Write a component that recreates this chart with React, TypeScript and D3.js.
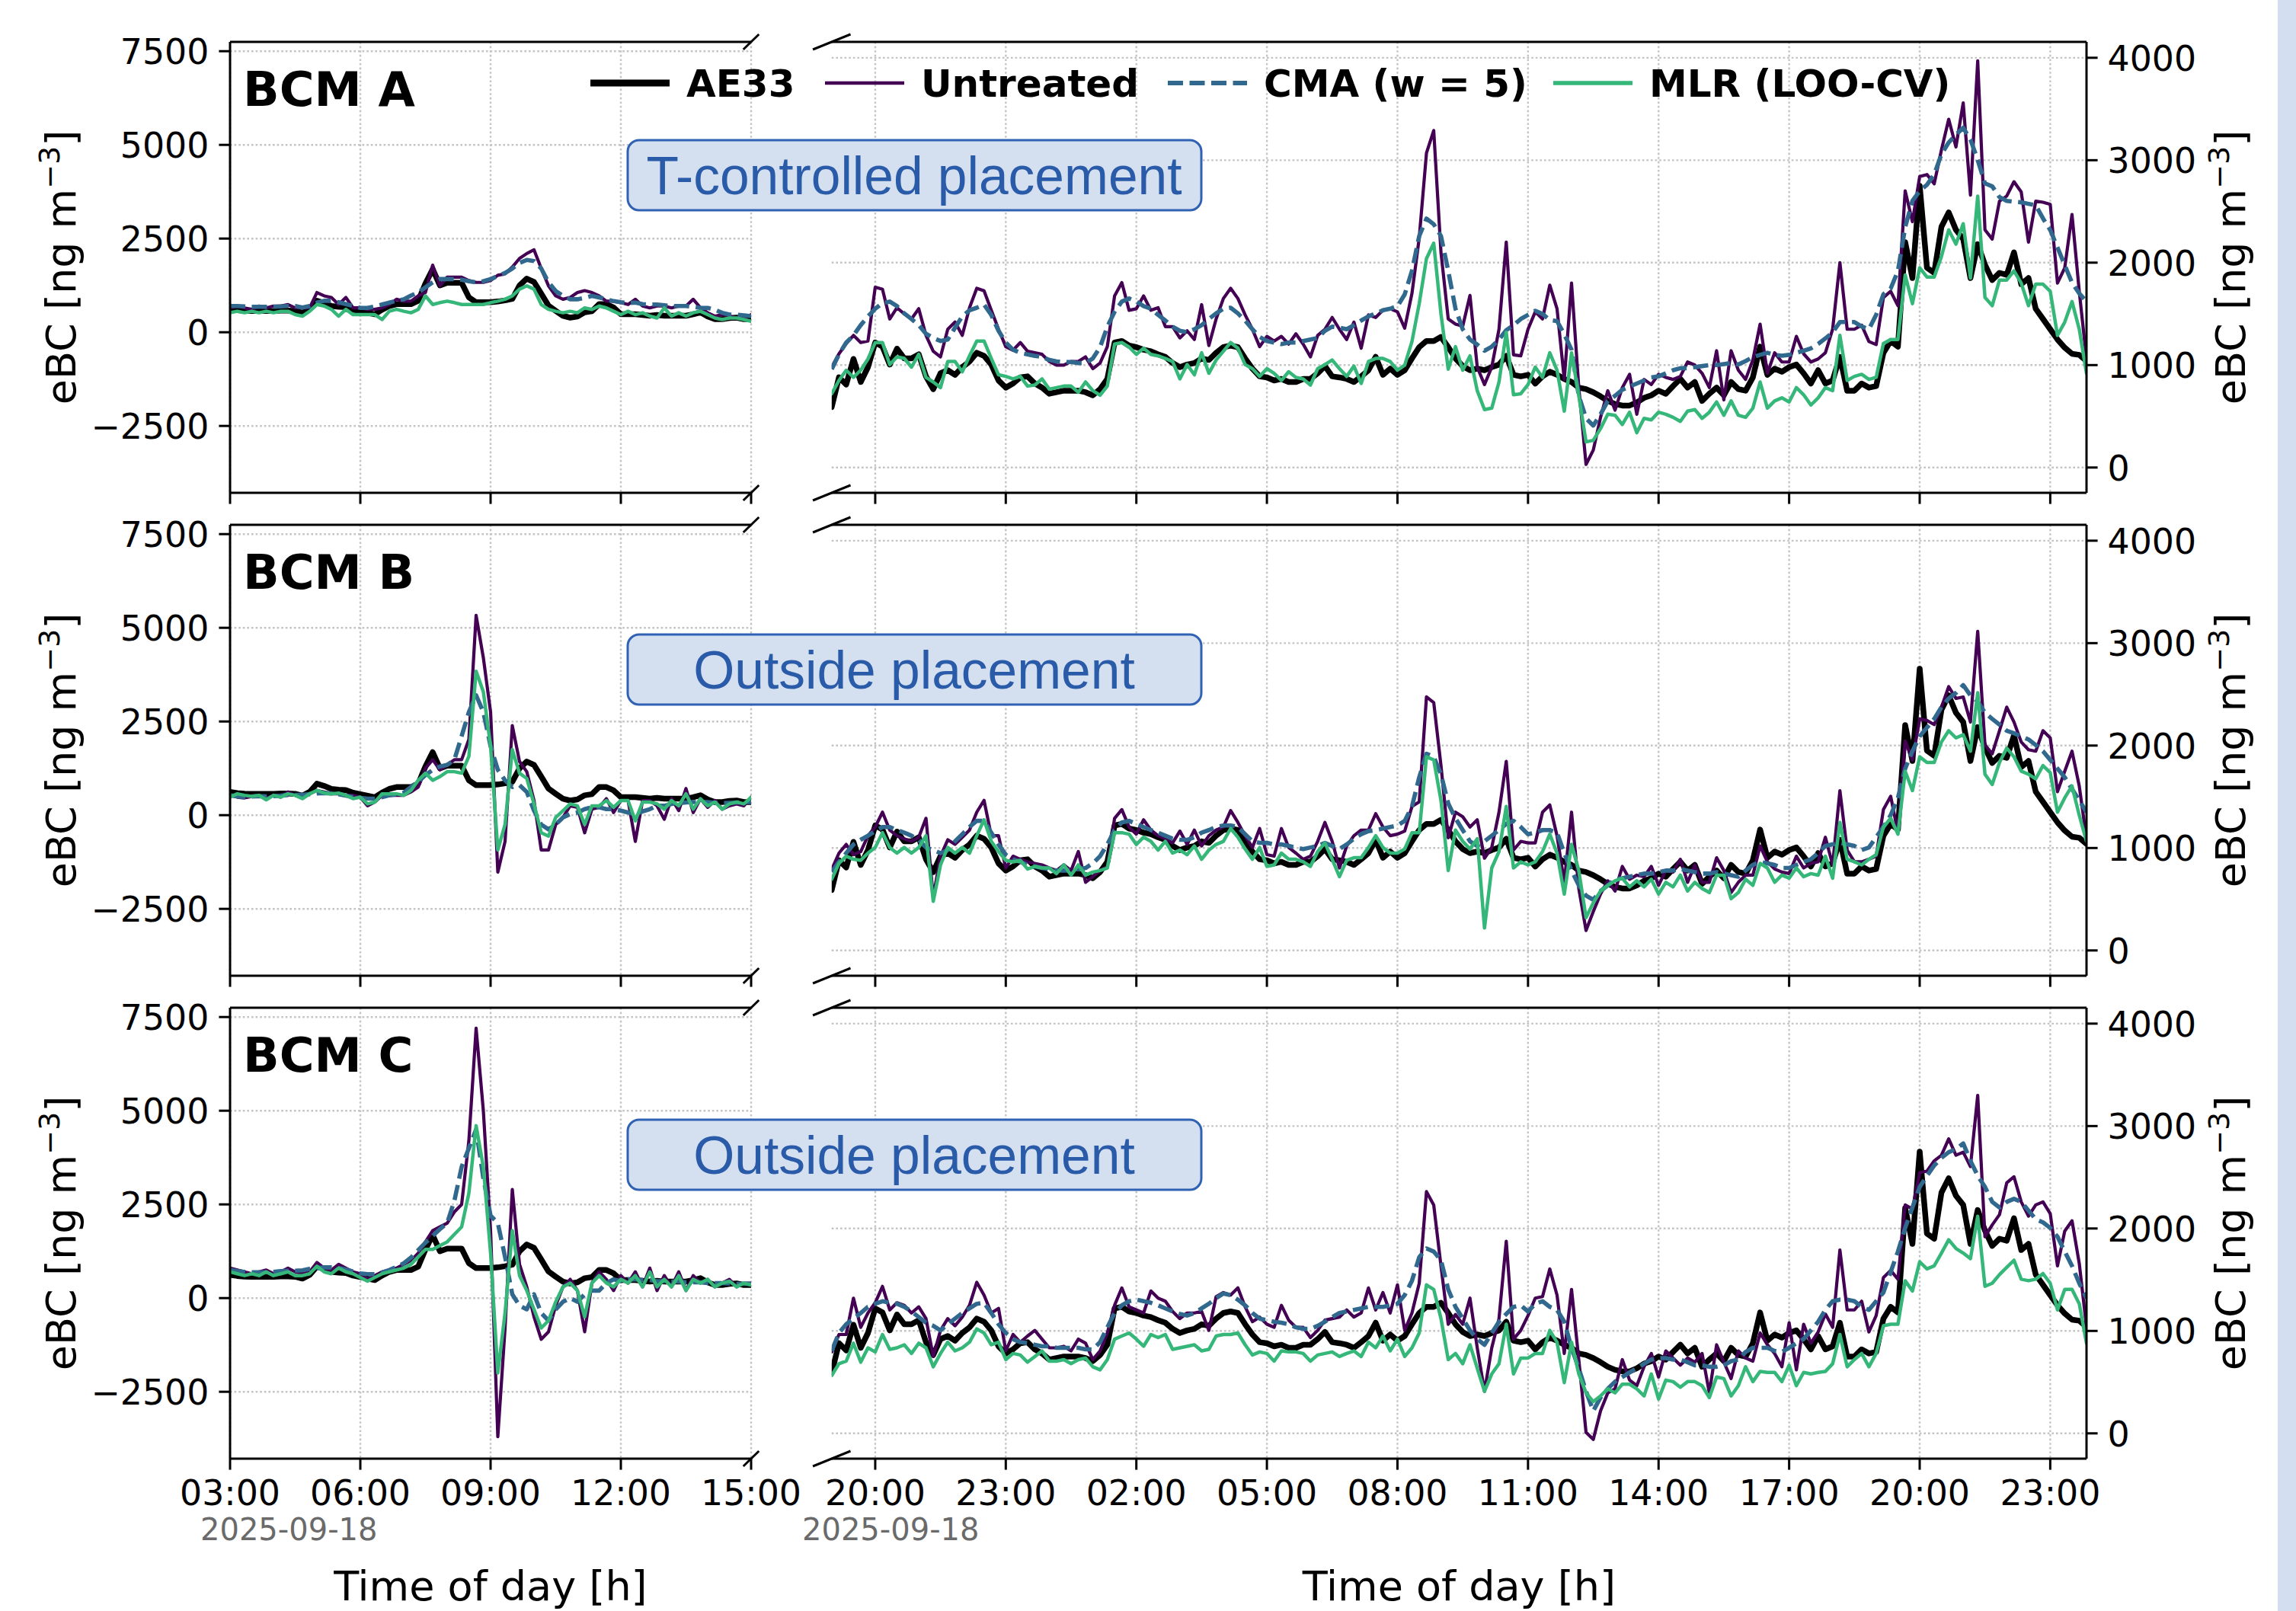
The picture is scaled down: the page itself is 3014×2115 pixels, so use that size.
import React from "react";
import * as d3 from "d3";

// ---------------- data ----------------
const leftTickHours = [3, 6, 9, 12, 15];
const leftTickLabels = ["03:00", "06:00", "09:00", "12:00", "15:00"];
const rightTickHours = [20, 23, 26, 29, 32, 35, 38, 41, 44, 47];
const rightTickLabels = ["20:00", "23:00", "02:00", "05:00", "08:00", "11:00", "14:00", "17:00", "20:00", "23:00"];
const leftYTicks = [-2500, 0, 2500, 5000, 7500];
const rightYTicks = [0, 1000, 2000, 3000, 4000];
const dateLabel = "2025-09-18";
const rowNames = ["BCM A", "BCM B", "BCM C"];
const placementLabels = ["T-controlled placement", "Outside placement", "Outside placement"];
const seriesNames = ["AE33", "Untreated", "CMA (w = 5)", "MLR (LOO-CV)"];
const leftStartHour = 3;
const rightStartHour = 19;
const stepHours = 1 / 6; // 10-minute samples

// AE33 reference (shared by the three rows)
const ae33Left = [620,590,575,570,570,570,570,580,580,570,520,620,840,780,700,680,670,600,560,520,480,600,700,750,750,750,840,1300,1680,1250,1320,1320,1320,930,800,800,800,820,850,890,1250,1430,1340,1030,710,570,440,390,420,530,560,750,750,660,480,480,480,460,440,460,440,440,440,440,480,530,420,350,350,380,390,350,350];
const ae33Right = [590,880,810,1060,835,980,1220,1180,1005,1160,1065,1065,1105,890,765,920,950,905,980,1035,1120,1090,1005,850,780,820,880,890,820,780,720,735,750,750,750,735,705,765,865,1220,1235,1190,1175,1150,1135,1105,1080,1020,980,1005,1020,1065,1050,1120,1175,1190,1175,1065,965,890,880,850,865,835,835,865,865,920,990,890,880,865,835,890,950,1080,905,965,905,950,1065,1175,1235,1235,1275,1175,1065,990,950,965,950,980,1005,1090,905,890,905,820,890,935,905,865,835,780,765,735,695,650,620,605,605,635,680,705,750,720,795,865,780,835,650,720,780,705,835,765,750,880,1180,905,965,935,980,1005,920,820,950,820,850,1080,750,750,820,780,795,1120,1235,1180,2200,1850,2750,1950,1900,2350,2490,2320,2230,1850,2180,1980,1830,1900,1880,2100,1790,1850,1550,1450,1350,1250,1170,1110,1100,1040];

// BCM A
const untreatedLeftA = [650,700,650,610,700,650,700,700,740,650,650,650,1060,970,930,740,930,650,650,610,610,650,740,880,830,830,970,1060,1790,1240,1470,1470,1470,1380,1330,1330,1380,1520,1560,1740,1970,2100,2200,1700,1240,970,880,930,1060,1110,1060,970,830,830,790,740,880,700,650,700,700,650,700,700,880,650,520,430,470,430,380,380,470];
const cmaLeftA = [700,700,690,680,680,680,680,690,700,700,660,700,790,840,840,800,750,700,650,650,690,740,790,840,880,980,1060,1200,1330,1420,1420,1420,1400,1360,1330,1360,1420,1500,1580,1700,1850,1930,1900,1700,1330,1100,970,880,880,920,970,930,880,830,800,780,790,750,740,740,720,700,700,700,680,650,650,600,520,470,470,450,430];
const mlrLeftA = [520,560,520,560,520,560,520,560,560,470,430,560,740,700,610,430,610,470,470,470,470,340,560,610,560,520,610,970,740,790,830,790,740,740,740,740,790,830,880,970,1150,1240,1150,740,610,560,520,560,520,650,610,700,650,560,470,560,470,520,430,380,650,430,520,430,520,560,470,380,340,380,380,340,290];
const untreatedRightA = [980,1110,1210,1290,1220,1235,1760,1740,1450,1560,1500,1450,1550,1290,1135,1080,1350,1420,1290,1560,1750,1725,1535,1350,1180,1145,1220,1135,1120,1105,1035,1000,1000,1035,1035,1080,965,1020,1180,1675,1805,1535,1550,1675,1535,1560,1375,1375,1265,1335,1250,1590,1190,1450,1650,1750,1650,1490,1350,1180,1280,1235,1280,1205,1305,1205,1080,1290,1350,1465,1350,1250,1420,1165,1490,1465,1535,1550,1520,1360,1700,2240,3070,3290,2100,1450,1400,1380,1680,980,810,980,1350,2200,1100,1090,1350,1520,1450,1780,1550,860,1800,780,30,170,490,750,560,780,910,520,860,810,910,880,860,890,1030,1000,920,780,1140,660,1140,950,860,1050,1400,920,1120,1030,1030,1280,1110,1030,1060,1120,1350,2000,1350,1350,1390,1230,1200,1660,1720,1580,2700,2400,2840,2860,2770,3100,3400,3130,3560,2660,3970,2320,2230,2600,2650,2790,2690,2200,2600,2590,2570,1800,1950,2470,1720,1060];
const cmaRightA = [960,1105,1220,1290,1390,1475,1550,1605,1620,1575,1505,1450,1390,1305,1265,1235,1250,1365,1475,1535,1560,1590,1490,1335,1220,1150,1120,1105,1090,1080,1050,1035,1030,1030,1020,1020,1065,1175,1375,1520,1620,1650,1620,1575,1550,1490,1435,1375,1335,1320,1350,1390,1450,1505,1550,1560,1505,1435,1350,1275,1235,1220,1205,1220,1220,1235,1250,1265,1335,1375,1365,1350,1390,1435,1475,1505,1535,1550,1575,1690,1920,2260,2430,2375,2260,1920,1550,1350,1250,1200,1140,1180,1250,1340,1390,1450,1490,1530,1500,1440,1430,1300,1150,700,480,410,520,650,700,760,790,820,850,880,890,920,950,970,970,980,990,1000,1000,1010,1020,1006,1040,1078,1100,1120,1100,1092,1100,1120,1140,1163,1206,1260,1320,1420,1420,1420,1377,1349,1491,1691,1748,1919,2346,2603,2700,2760,2860,3059,3173,3250,3316,3202,3002,2774,2745,2640,2603,2595,2589,2574,2560,2432,2318,2147,1976,1805,1700,1620];
const mlrRightA = [720,850,950,880,950,1060,1220,1220,1005,1080,1065,980,1105,880,835,780,1035,1035,935,1090,1235,1235,1065,905,890,865,890,795,805,865,765,780,795,795,735,835,750,705,795,1205,1220,1175,1105,1165,1105,1090,1065,1035,865,1005,905,1120,920,1050,1135,1220,1165,1005,965,890,965,920,850,935,880,865,805,965,1005,1050,965,890,990,820,1035,1065,1065,1035,950,1000,1230,1600,2040,2190,1500,960,1180,950,1090,750,565,580,835,1320,710,720,810,980,880,1120,950,550,1120,700,250,265,380,520,510,420,540,340,480,465,540,520,490,450,550,565,480,540,640,510,650,510,490,580,835,580,650,680,640,780,710,610,680,780,750,1290,850,890,910,860,880,1210,1250,1250,1880,1600,1950,1860,1860,2060,2320,2180,2380,1850,2650,1660,1580,1830,1830,1920,1800,1580,1790,1790,1720,1290,1420,1620,1350,920];

// BCM B
const untreatedLeftB = [530,480,460,500,530,460,530,480,620,530,460,570,660,620,570,570,530,530,480,250,350,530,530,530,530,620,750,1250,1480,1210,1340,1480,1480,2020,5330,4200,2750,-1520,-700,2390,1430,1160,390,-930,-930,-250,-60,250,210,-470,160,210,440,70,390,390,-700,390,390,250,-110,440,120,710,70,440,210,390,160,250,300,250,480];
const cmaLeftB = [530,500,490,500,510,500,510,520,540,540,540,560,580,590,580,560,520,480,460,440,440,480,530,560,600,750,890,1070,1210,1300,1340,1480,2110,2750,3200,2750,1840,1210,930,750,800,620,120,-250,-380,-250,-60,30,70,160,210,210,160,160,120,70,30,100,160,250,250,300,320,340,350,350,350,330,320,330,340,350,350];
const mlrLeftB = [480,570,530,500,530,410,530,480,570,530,440,570,660,590,570,590,530,440,480,300,350,570,570,570,530,660,930,1120,930,1030,1160,1160,1120,1570,3840,3290,1840,-930,-250,1750,1120,980,300,-470,-560,-60,120,300,250,-250,250,250,390,210,390,390,-150,350,350,300,160,390,250,570,160,440,250,350,160,300,350,300,480];
const untreatedRightB = [790,950,1035,935,965,1120,1205,1350,1175,1120,1090,1065,1105,1290,520,920,1080,1035,1105,1175,1350,1465,1120,1120,805,920,890,865,850,835,805,780,835,780,965,665,720,780,820,1290,1375,1205,1135,1275,1175,1120,1090,1050,1165,1035,1175,1020,1120,1175,1205,1365,1250,1120,1005,1190,935,920,1190,1005,950,890,920,1065,1250,1065,805,1020,1120,1175,1175,1335,1205,1120,1135,1165,1405,1450,2475,2420,1805,1100,1350,1305,1205,1275,900,1005,1350,1845,980,1065,1050,1050,1350,1420,1120,665,1350,605,195,380,550,680,580,820,695,735,720,820,635,780,765,890,665,835,665,665,905,780,565,665,735,735,1020,865,795,765,750,920,805,850,865,1105,835,1560,980,865,865,890,920,1375,1505,1150,2045,1860,2260,2245,2205,2375,2575,2460,2475,2230,3115,2005,1920,2145,2375,2230,2035,1960,1945,2145,2075,1550,1750,1945,1605,1090];
const cmaRightB = [765,865,950,1035,1080,1120,1165,1205,1205,1175,1150,1120,1080,1005,980,950,980,1065,1135,1205,1265,1265,1150,1035,935,890,865,835,820,805,795,780,780,780,795,805,850,920,1035,1175,1250,1265,1235,1205,1175,1150,1120,1090,1080,1080,1105,1150,1175,1205,1220,1220,1205,1135,1065,1050,1050,1035,1035,1020,1005,990,1005,1020,1050,1020,990,1035,1090,1135,1165,1175,1190,1205,1220,1265,1405,1690,1920,1890,1720,1435,1290,1175,1065,1020,1065,1120,1175,1235,1265,1205,1135,1150,1175,1175,1150,950,780,635,535,495,580,635,695,705,720,735,750,750,765,780,780,795,780,765,750,750,765,750,735,720,780,835,865,850,835,805,805,835,865,890,950,1020,1035,1050,1035,1020,980,1005,1105,1205,1320,1490,1775,1945,2090,2175,2260,2375,2460,2515,2590,2490,2430,2320,2260,2205,2145,2120,2090,2060,2005,1945,1860,1775,1690,1575,1465,1350];
const mlrRightB = [695,850,920,890,880,950,1005,1150,1005,950,1005,950,1005,1120,480,835,1005,950,1005,950,1120,1275,1065,965,880,865,880,795,820,805,805,750,835,735,835,735,765,780,805,1150,1150,1135,1035,1105,1065,980,1065,950,980,935,1020,890,980,1035,1065,1190,1105,990,890,1005,820,835,950,890,890,865,820,965,1050,890,720,880,905,905,1005,1120,1005,950,950,990,1150,1150,1890,1860,1465,780,1175,1065,990,1090,220,805,965,1405,805,865,835,865,965,1135,950,550,1035,780,320,465,580,635,680,705,620,680,620,695,550,665,620,735,580,665,605,565,735,735,505,565,695,635,850,805,665,735,705,805,720,750,735,920,705,1250,890,865,835,890,935,1205,1290,1135,1750,1560,1890,1835,1835,2035,2145,2075,2105,1945,2515,1720,1620,1835,1975,1890,1750,1720,1675,1805,1735,1350,1490,1605,1320,1065];

// BCM C
const untreatedLeftC = [800,750,700,650,700,750,650,700,800,700,650,700,950,800,750,900,800,700,650,500,600,700,750,800,900,1000,1200,1500,1800,1900,2000,2300,2500,4200,7200,5000,1800,-3700,-800,2900,900,300,-500,-1100,-900,-200,300,500,200,-900,400,700,500,200,600,400,700,300,800,200,600,300,700,200,600,400,500,300,400,500,300,400,400];
const cmaLeftC = [750,720,700,690,690,690,700,720,730,730,740,780,800,820,820,800,760,710,660,640,640,680,750,830,930,1080,1280,1480,1660,1840,2000,2600,3500,4000,4500,3200,2200,2000,1100,100,-200,-300,100,-400,-600,-300,-100,0,-100,100,200,200,400,500,450,500,500,480,480,450,450,440,440,420,420,420,400,400,400,390,380,380,380];
const mlrLeftC = [700,650,600,650,600,700,600,650,700,600,600,650,850,700,650,800,700,650,550,450,550,650,700,750,800,900,1100,1300,1300,1400,1500,1700,1900,2800,4600,3500,1200,-2000,-400,1800,600,200,-300,-800,-600,-100,300,400,200,-500,400,600,400,300,500,400,600,300,700,300,500,300,600,200,500,400,500,300,400,450,300,400,350];
const untreatedRightC = [795,965,965,1320,1035,1175,1275,1435,1205,1275,1250,1175,1235,1120,750,1005,1120,1050,1135,1250,1475,1350,1175,1220,805,965,890,950,1005,920,835,835,850,805,920,880,720,805,980,1250,1420,1235,1205,1175,1390,1320,1290,1190,1120,1175,1175,1190,1005,1335,1375,1350,1420,1235,1090,1135,1065,1035,1250,1105,1035,1035,935,1005,1105,1120,1135,1205,1135,1175,1420,1205,1375,1175,1450,1005,1175,1465,2360,2230,1635,1065,1160,1065,1320,835,410,835,1120,1875,920,1005,1150,1320,1335,1605,1350,780,1405,720,10,-60,220,395,435,720,520,465,650,780,550,805,735,665,735,695,780,395,865,695,535,805,735,705,980,865,780,650,1080,620,1065,880,990,1165,1035,1790,1205,1205,1290,990,1150,1520,1590,1505,2230,2190,2545,2560,2660,2715,2875,2715,2745,2605,3300,1920,2035,2135,2445,2505,2260,2120,2230,2260,2145,1635,1975,2075,1660,1035];
const cmaRightC = [805,980,1065,1120,1175,1235,1265,1290,1275,1265,1235,1190,1135,1080,1050,1005,1065,1120,1175,1220,1265,1275,1175,1065,980,920,890,880,865,850,850,835,835,835,835,820,820,890,1035,1175,1250,1290,1305,1290,1275,1250,1220,1190,1165,1150,1175,1220,1265,1320,1365,1350,1305,1250,1175,1120,1105,1090,1080,1065,1035,1020,1020,1050,1090,1135,1175,1190,1205,1220,1235,1235,1235,1250,1265,1350,1490,1720,1805,1775,1690,1405,1235,1120,1005,920,865,980,1090,1165,1235,1250,1190,1265,1290,1235,1205,1090,835,635,410,220,350,435,505,550,595,635,680,720,735,735,720,720,695,665,665,650,650,665,705,720,795,835,835,835,805,795,835,880,920,1005,1090,1205,1290,1305,1305,1290,1235,1205,1290,1375,1575,1775,2005,2205,2405,2515,2615,2690,2745,2775,2830,2660,2515,2405,2260,2205,2260,2290,2260,2175,2090,2060,2005,1920,1775,1635,1465,1320];
const mlrRightC = [565,680,705,880,695,835,795,965,820,835,865,780,880,835,650,780,890,805,835,890,1020,980,865,890,720,780,765,695,750,805,705,705,720,680,720,735,650,620,720,920,950,980,920,850,965,935,965,820,835,850,865,805,820,950,965,965,980,865,765,795,780,705,805,795,795,780,705,765,780,795,750,780,805,750,890,835,950,805,920,750,835,980,1450,1405,1120,720,780,680,865,635,410,580,680,1065,580,735,735,780,780,1005,890,495,890,580,395,310,365,435,395,480,480,435,365,580,335,520,505,450,505,505,465,350,550,535,365,465,650,505,605,595,595,505,665,465,595,580,595,605,680,965,650,720,780,650,780,1050,1065,1065,1490,1390,1675,1605,1635,1760,1890,1805,1760,1705,2120,1435,1465,1550,1620,1690,1505,1490,1505,1560,1465,1205,1405,1405,1265,880];

// ---------------- layout & styles ----------------
const FIG_W = 3014;
const FIG_H = 2115;
const ROW_TOP = [55, 689, 1323];
const PANEL_H = 592;
const LEFT_X: [number, number] = [302, 986];
const RIGHT_X: [number, number] = [1091.8, 2739];
const BOX_CY = [230, 879, 1516];
const FONT = "DejaVu Sans";
const TICK_FS = 45.8;
const LABEL_FS = 54;
const TICK_LEN = 14.6;

const seriesStyle = [
  { color: "#000000", width: 7.5, dash: "" },
  { color: "#440154", width: 4.2, dash: "" },
  { color: "#31688e", width: 5.6, dash: "20 8.5" },
  { color: "#35b779", width: 4.5, dash: "" },
];
const legendX = [775, 1083, 1533, 2039];
const legendWidth = [9, 4.5, 6, 5.5];

const gridStyle = { stroke: "#c4c4c4", strokeWidth: 2.4, strokeDasharray: "2.6 3" };

const fmt = (v: number) => (v < 0 ? "\u2212" + Math.abs(v) : String(v));

const tLeft = d3.range(ae33Left.length).map((j) => leftStartHour + j * stepHours);
const tRight = d3.range(ae33Right.length).map((i) => rightStartHour + i * stepHours);

const xL = d3.scaleLinear().domain([leftStartHour, 15]).range(LEFT_X);
const xR = d3.scaleLinear().domain([rightStartHour, rightStartHour + (ae33Right.length - 1) * stepHours]).range(RIGHT_X);
const yL = d3.scaleLinear().domain([-4285, 7748]).range([PANEL_H, 0]);
const yR = d3.scaleLinear().domain([-247, 4155]).range([PANEL_H, 0]);

const rowsData = [
  { left: [ae33Left, untreatedLeftA, cmaLeftA, mlrLeftA], right: [ae33Right, untreatedRightA, cmaRightA, mlrRightA] },
  { left: [ae33Left, untreatedLeftB, cmaLeftB, mlrLeftB], right: [ae33Right, untreatedRightB, cmaRightB, mlrRightB] },
  { left: [ae33Left, untreatedLeftC, cmaLeftC, mlrLeftC], right: [ae33Right, untreatedRightC, cmaRightC, mlrRightC] },
];

function YLabel({ x, cy }: { x: number; cy: number }) {
  return (
    <text transform={`translate(${x},${cy}) rotate(-90)`} textAnchor="middle" fontFamily={FONT} fontSize={LABEL_FS} fill="#000">
      eBC [ng m<tspan dy={-21} fontSize={38}>{"\u22123"}</tspan>
      <tspan dy={21}>]</tspan>
    </text>
  );
}

function Panel({ side, row }: { side: "left" | "right"; row: number }) {
  const isLeft = side === "left";
  const x = isLeft ? xL : xR;
  const y = isLeft ? yL : yR;
  const t = isLeft ? tLeft : tRight;
  const ticksX = isLeft ? leftTickHours : rightTickHours;
  const tickLabelsX = isLeft ? leftTickLabels : rightTickLabels;
  const ticksY = isLeft ? leftYTicks : rightYTicks;
  const [x0, x1] = isLeft ? LEFT_X : RIGHT_X;
  const series = isLeft ? rowsData[row].left : rowsData[row].right;
  const clipId = `clip-${side}-${row}`;
  const lineGen = d3
    .line<number>()
    .x((_, i) => x(t[i]))
    .y((d) => y(d));
  const bottom = PANEL_H;
  const isBottomRow = row === 2;
  const breakDx = 0.015 * (x1 - x0);
  const breakDy = 10;
  const bx = isLeft ? x1 : x0;
  return (
    <g transform={`translate(0,${ROW_TOP[row]})`}>
      <defs>
        <clipPath id={clipId}>
          <rect x={x0} y={0} width={x1 - x0} height={PANEL_H} />
        </clipPath>
      </defs>
      {ticksX.map((h) => (
        <line key={"gx" + h} x1={x(h)} x2={x(h)} y1={0} y2={PANEL_H} {...gridStyle} />
      ))}
      {ticksY.map((v) => (
        <line key={"gy" + v} x1={x0} x2={x1} y1={y(v)} y2={y(v)} {...gridStyle} />
      ))}
      <g clipPath={`url(#${clipId})`}>
        {series.map((s, k) => (
          <path
            key={k}
            d={lineGen(s) || ""}
            fill="none"
            stroke={seriesStyle[k].color}
            strokeWidth={seriesStyle[k].width}
            strokeDasharray={seriesStyle[k].dash || undefined}
            strokeLinejoin="round"
            strokeLinecap={seriesStyle[k].dash ? "butt" : "round"}
          />
        ))}
      </g>
      <line x1={x0} x2={x1} y1={0} y2={0} stroke="#000" strokeWidth={3} />
      <line x1={x0} x2={x1} y1={bottom} y2={bottom} stroke="#000" strokeWidth={3} />
      {isLeft ? (
        <line x1={x0} x2={x0} y1={0} y2={bottom} stroke="#000" strokeWidth={3} />
      ) : (
        <line x1={x1} x2={x1} y1={0} y2={bottom} stroke="#000" strokeWidth={3} />
      )}
      {[0, bottom].map((yy) => (
        <line key={"br" + yy} x1={bx - breakDx} y1={yy + breakDy} x2={bx + breakDx} y2={yy - breakDy} stroke="#000" strokeWidth={3} />
      ))}
      {ticksY.map((v) => {
        const xx = isLeft ? x0 : x1;
        const dir = isLeft ? -1 : 1;
        return (
          <g key={"ty" + v}>
            <line x1={xx} x2={xx + dir * TICK_LEN} y1={y(v)} y2={y(v)} stroke="#000" strokeWidth={3} />
            <text
              x={xx + dir * (TICK_LEN + 13)}
              y={y(v) + 17}
              textAnchor={isLeft ? "end" : "start"}
              fontFamily={FONT}
              fontSize={TICK_FS}
              fill="#000"
            >
              {fmt(v)}
            </text>
          </g>
        );
      })}
      {ticksX.map((h, k) => (
        <g key={"tx" + h}>
          <line x1={x(h)} x2={x(h)} y1={bottom} y2={bottom + TICK_LEN} stroke="#000" strokeWidth={3} />
          {isBottomRow && (
            <text x={x(h)} y={bottom + 61} textAnchor="middle" fontFamily={FONT} fontSize={TICK_FS} fill="#000">
              {tickLabelsX[k]}
            </text>
          )}
        </g>
      ))}
    </g>
  );
}

export default function App() {
  return (
    <div style={{ position: "absolute", left: 0, top: 0, width: FIG_W, height: FIG_H }}>
      <svg width={FIG_W} height={FIG_H} viewBox={`0 0 ${FIG_W} ${FIG_H}`} style={{ display: "block" }}>
        <rect x={0} y={0} width={FIG_W} height={FIG_H} fill="#ffffff" />
        <rect x={2990} y={0} width={FIG_W - 2990} height={FIG_H} fill="#d3dff0" />
        {[0, 1, 2].map((r) => (
          <g key={r}>
            <Panel side="left" row={r} />
            <Panel side="right" row={r} />
            <YLabel x={99} cy={ROW_TOP[r] + PANEL_H / 2} />
            <YLabel x={2947} cy={ROW_TOP[r] + PANEL_H / 2} />
            <text x={319} y={ROW_TOP[r] + 84} fontFamily={FONT} fontWeight="bold" fontSize={62.5} fill="#000">
              {rowNames[r]}
            </text>
            <rect x={824} y={BOX_CY[r] - 46} width={753} height={92} rx={15} ry={15} fill="#d4dff0" stroke="#3062b3" strokeWidth={3} />
            <text
              x={1200}
              y={BOX_CY[r] + 24.5}
              textAnchor="middle"
              fontFamily="Liberation Sans, Arial, sans-serif"
              fontSize={69.5}
              fill="#2a5ba9"
            >
              {placementLabels[r]}
            </text>
          </g>
        ))}
        {seriesNames.map((name, k) => (
          <g key={name}>
            <line
              x1={legendX[k]}
              x2={legendX[k] + 104}
              y1={109}
              y2={109}
              stroke={seriesStyle[k].color}
              strokeWidth={legendWidth[k]}
              strokeDasharray={seriesStyle[k].dash || undefined}
            />
            <text x={legendX[k] + 126} y={127} fontFamily={FONT} fontWeight="bold" fontSize={50} fill="#000">
              {name}
            </text>
          </g>
        ))}
        <text x={263} y={2022} fontFamily={FONT} fontSize={40} fill="#6a6a6a">
          {dateLabel}
        </text>
        <text x={1053} y={2022} fontFamily={FONT} fontSize={40} fill="#6a6a6a">
          {dateLabel}
        </text>
        <text x={(LEFT_X[0] + LEFT_X[1]) / 2} y={2101} textAnchor="middle" fontFamily={FONT} fontSize={LABEL_FS} fill="#000">
          Time of day [h]
        </text>
        <text x={(RIGHT_X[0] + RIGHT_X[1]) / 2} y={2101} textAnchor="middle" fontFamily={FONT} fontSize={LABEL_FS} fill="#000">
          Time of day [h]
        </text>
      </svg>
    </div>
  );
}
